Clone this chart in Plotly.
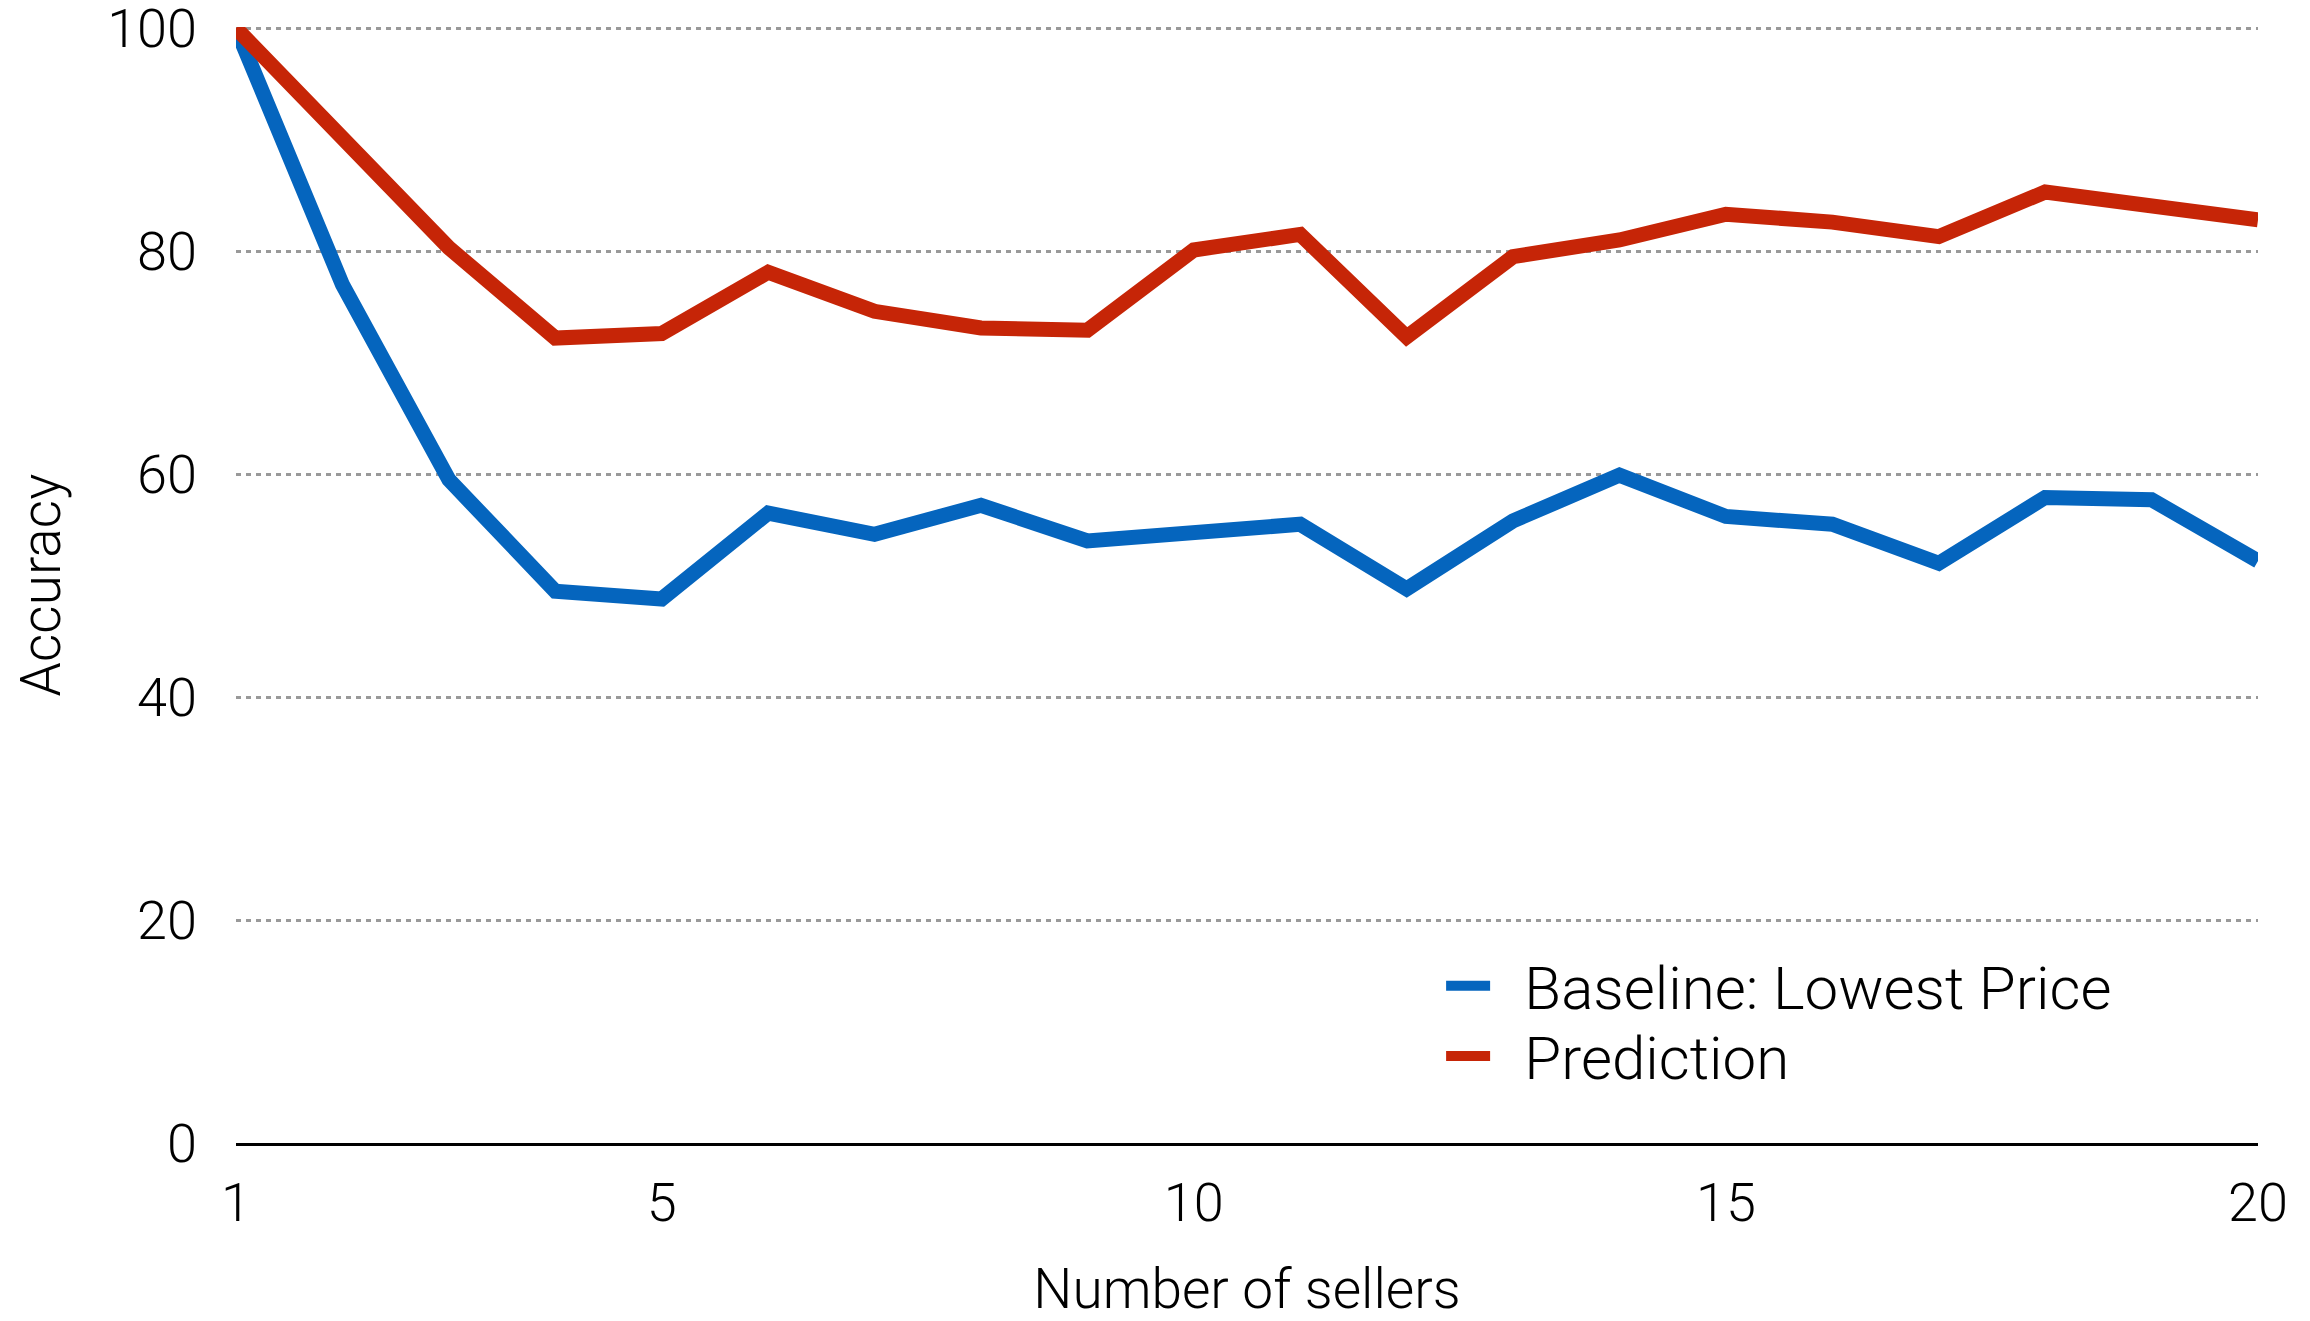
import plotly.graph_objects as go

sellers = list(range(1, 21))
baseline = [100, 77.0, 59.5, 49.5, 48.8, 56.5, 54.6, 57.2, 54.0, 54.8,
            55.5, 49.7, 55.8, 59.9, 56.2, 55.5, 52.0, 57.9, 57.7, 52.2]
prediction = [100, 90.0, 80.3, 72.2, 72.6, 78.1, 74.6, 73.1, 72.9, 80.1,
              81.5, 72.3, 79.5, 81.0, 83.3, 82.6, 81.3, 85.3, 83.9, 82.8]
x_ticks = [1, 5, 10, 15, 20]
y_ticks = [0, 20, 40, 60, 80, 100]

BLUE = "#0565be"
RED = "#c62507"
FONT = "Roboto"
NB = "\u00a0\u00a0"

fig = go.Figure()
fig.add_trace(go.Scatter(x=sellers, y=baseline, mode="lines", name=NB + "Baseline: Lowest Price",
                         line=dict(color=BLUE, width=15), cliponaxis=False, legend="legend"))
fig.add_trace(go.Scatter(x=sellers, y=prediction, mode="lines", name=NB + "Prediction",
                         line=dict(color=RED, width=15), cliponaxis=False, legend="legend2"))

legend_common = dict(xanchor="left", yanchor="middle",
                     font=dict(family=FONT, size=60, color="black", weight=300),
                     bgcolor="rgba(0,0,0,0)", itemwidth=44)

fig.update_layout(
    width=2310, height=1321,
    margin=dict(l=236, r=52, t=27, b=178, autoexpand=False),
    plot_bgcolor="white", paper_bgcolor="white",
    font=dict(family=FONT, size=54, color="black", weight=300),
    showlegend=True,
    legend=dict(x=0.596, y=0.141, **legend_common),
    legend2=dict(x=0.596, y=0.078, **legend_common),
    xaxis=dict(range=[1, 20], tickvals=x_ticks, showgrid=False, zeroline=False,
               showline=True, linecolor="black", linewidth=3, ticks="",
               automargin=False, ticklabelstandoff=10, ticklabeloverflow="allow",
               title=dict(text="Number of sellers", standoff=64,
                          font=dict(family=FONT, size=55, weight=300))),
    yaxis=dict(range=[0, 100.1], tickvals=y_ticks, showgrid=True, gridcolor="#999999",
               griddash="5px,5px", gridwidth=2.5, zeroline=False, showline=False, ticks="",
               automargin=False, ticklabelstandoff=38, ticklabeloverflow="allow",
               title=dict(text="Accuracy", standoff=28,
                          font=dict(family=FONT, size=55, weight=300))),
)

fig.write_html("out.html", config={"displayModeBar": False},
               post_script="document.body.style.margin='0';")
